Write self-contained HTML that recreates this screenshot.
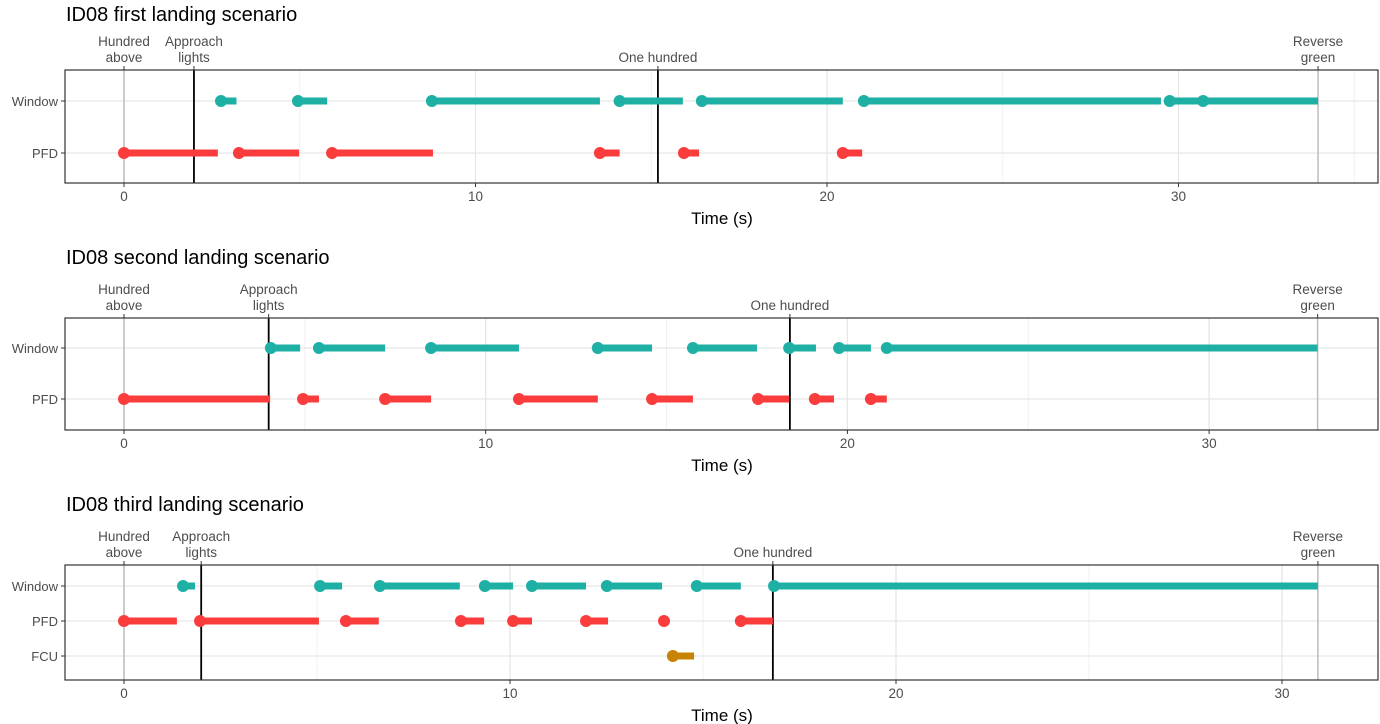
<!DOCTYPE html>
<html><head><meta charset="utf-8"><style>
body{margin:0;background:#fff;}
svg{display:block;font-family:"Liberation Sans",Arial,sans-serif;}
</style></head><body>
<svg id="c" width="1380" height="724"></svg>
<script>
// Panel 1 data
const p1Title = "ID08 first landing scenario";
const p1Rows = ["Window","PFD"];
const p1WinStart = [2.76,4.95,8.76,14.1,16.44,21.05,29.75,30.7];
const p1WinEnd   = [3.2,5.78,13.54,15.9,20.45,29.5,30.7,33.97];
const p1PfdStart = [0,3.27,5.92,13.54,15.93,20.45];
const p1PfdEnd   = [2.67,4.98,8.79,14.1,16.36,21.0];
const p1EventNames = ["Hundred\nabove","Approach\nlights","One hundred","Reverse\ngreen"];
const p1EventTimes = [0,1.99,15.19,33.97];
// Panel 2 data
const p2Title = "ID08 second landing scenario";
const p2Rows = ["Window","PFD"];
const p2WinStart = [4.06,5.39,8.49,13.1,15.73,18.39,19.77,21.09];
const p2WinEnd   = [4.87,7.22,10.92,14.6,17.5,19.13,20.65,33.0];
const p2PfdStart = [0,4.95,7.22,10.92,14.6,17.53,19.1,20.65];
const p2PfdEnd   = [4.04,5.39,8.49,13.1,15.73,18.39,19.63,21.09];
const p2EventNames = ["Hundred\nabove","Approach\nlights","One hundred","Reverse\ngreen"];
const p2EventTimes = [0,4.0,18.41,33.0];
// Panel 3 data
const p3Title = "ID08 third landing scenario";
const p3Rows = ["Window","PFD","FCU"];
const p3WinStart = [1.53,5.08,6.63,9.35,10.57,12.51,14.84,16.84];
const p3WinEnd   = [1.84,5.65,8.7,10.08,11.97,13.94,15.98,30.93];
const p3PfdStart = [0,1.97,5.75,8.73,10.08,11.97,13.99,15.98];
const p3PfdEnd   = [1.37,5.05,6.6,9.33,10.57,12.54,13.99,16.81];
const p3FcuStart = [14.22];
const p3FcuEnd   = [14.77];
const p3EventNames = ["Hundred\nabove","Approach\nlights","One hundred","Reverse\ngreen"];
const p3EventTimes = [0,2.0,16.81,30.93];
const majorTicks = [0,10,20,30];

const NS="http://www.w3.org/2000/svg";
const svg=document.getElementById('c');
function mk(tag,attrs,parent){const e=document.createElementNS(NS,tag);for(const k in attrs)e.setAttribute(k,attrs[k]);(parent||svg).appendChild(e);return e;}
const colors={Window:"#1fb0a5",PFD:"#fb3c3c",FCU:"#c98304"};

function panel(idx,title,rows,series,evNames,evTimes,geo){
  const g=mk('g',{});
  
  
  const L=65,R=1378;
  const x=v=>geo.x0+v*geo.s;
  const t=mk('text',{x:66,y:geo.titleY,'font-size':20,fill:'#000'},g);t.textContent=title;
  
  
  // minor grid
  for(let v=5;x(v)<R;v+=10){const l=mk('line',{x1:x(v),x2:x(v),y1:geo.top,y2:geo.bot,stroke:'#f0f0f0','stroke-width':1},g);}
  majorTicks.forEach(v=>{if(x(v)<R){const l=mk('line',{x1:x(v),x2:x(v),y1:geo.top,y2:geo.bot,stroke:'#e6e6e6','stroke-width':1.3},g);}});
  rows.forEach((r,i)=>{const y=geo.rowY[i];
    const l=mk('line',{x1:L,x2:R,y1:y,y2:y,stroke:'#e6e6e6','stroke-width':1.3},g);
    mk('line',{x1:L-4,x2:L,y1:y,y2:y,stroke:'#333'},g);
    const tx=mk('text',{x:L-7,y:y+5,'font-size':13,fill:'#4d4d4d','text-anchor':'end'},g);tx.textContent=r;
    
  });
  // events
  evTimes.forEach((v,i)=>{const black=(i==1||i==2);
    const l=mk('line',{x1:x(v),x2:x(v),y1:geo.top,y2:geo.bot,stroke:black?'#000':'#bdbdbd','stroke-width':black?1.8:1.5},g);
    
    mk('line',{x1:x(v),x2:x(v),y1:geo.top-4,y2:geo.top,stroke:'#333'},g);
    const lines=evNames[i].split('\n');
    lines.forEach((s,j)=>{const tx=mk('text',{x:x(v),y:geo.top-8-(lines.length-1-j)*16,'font-size':13.5,fill:'#4d4d4d','text-anchor':'middle'},g);tx.textContent=s;
      });
  });
  // series
  rows.forEach((r,i)=>{const y=geo.rowY[i];const [st,en]=series[r];
    st.forEach((a,k)=>{const b=en[k];
      const l=mk('line',{x1:x(a),x2:x(b),y1:y,y2:y,stroke:colors[r],'stroke-width':7},g);
      
      const c=mk('circle',{cx:x(a),cy:y,r:6,fill:colors[r]},g);
      
    });
  });
  const box=mk('rect',{x:L,y:geo.top,width:R-L,height:geo.bot-geo.top,fill:'none',stroke:'#333','stroke-width':1.2},g);
  
  majorTicks.forEach(v=>{if(x(v)<R){mk('line',{x1:x(v),x2:x(v),y1:geo.bot,y2:geo.bot+4,stroke:'#333'},g);
    const tx=mk('text',{x:x(v),y:geo.bot+18,'font-size':13.5,fill:'#4d4d4d','text-anchor':'middle'},g);tx.textContent=v;
    }});
  const xt=mk('text',{x:722,y:geo.bot+41,'font-size':17,fill:'#000','text-anchor':'middle'},g);xt.textContent="Time (s)";
  
}
panel(1,p1Title,p1Rows,{Window:[p1WinStart,p1WinEnd],PFD:[p1PfdStart,p1PfdEnd]},p1EventNames,p1EventTimes,
  {x0:124,s:35.15,top:70,bot:183,rowY:[101,153],titleY:21});
panel(2,p2Title,p2Rows,{Window:[p2WinStart,p2WinEnd],PFD:[p2PfdStart,p2PfdEnd]},p2EventNames,p2EventTimes,
  {x0:124,s:36.17,top:318,bot:430,rowY:[348,399],titleY:264});
panel(3,p3Title,p3Rows,{Window:[p3WinStart,p3WinEnd],PFD:[p3PfdStart,p3PfdEnd],FCU:[p3FcuStart,p3FcuEnd]},p3EventNames,p3EventTimes,
  {x0:124,s:38.6,top:565,bot:680,rowY:[586,621,656],titleY:511});
</script>
</body></html>
